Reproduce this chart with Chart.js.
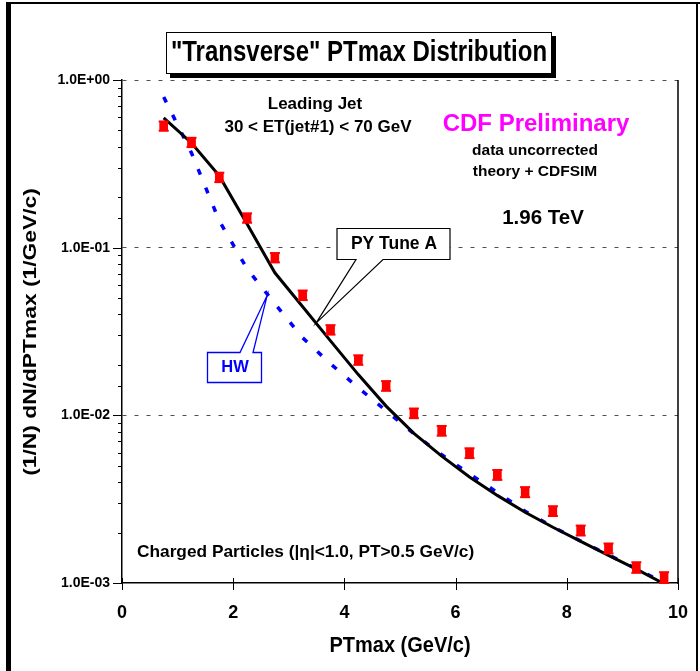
<!DOCTYPE html>
<html>
<head>
<meta charset="utf-8">
<script src="https://cdn.jsdelivr.net/npm/chart.js@4/dist/chart.umd.min.js"></script>
<style>
  html, body { margin: 0; padding: 0; background: #fff; }
  #wrap { position: relative; width: 700px; height: 671px; }
  canvas { display: block; }
</style>
</head>
<body>
<div id="wrap"><canvas id="c" width="700" height="671"></canvas></div>
<script>
// PTmax bin centres (GeV/c)
const ptBins = [0.75, 1.25, 1.75, 2.25, 2.75, 3.25, 3.75, 4.25, 4.75, 5.25,
                5.75, 6.25, 6.75, 7.25, 7.75, 8.25, 8.75, 9.25, 9.75];
// CDF data, (1/N) dN/dPTmax, with statistical errors
const cdfData = [0.532, 0.425, 0.263, 0.1505, 0.0873, 0.0521, 0.0324, 0.0214, 0.0150, 0.0103,
                 0.0081, 0.00596, 0.00442, 0.00349, 0.00269, 0.00206, 0.00161, 0.00124, 0.00108];
const cdfErr  = [0.034, 0.027, 0.017, 0.0097, 0.0056, 0.0034, 0.0021, 0.0014, 0.0010, 0.00068,
                 0.00054, 0.00040, 0.00030, 0.00024, 0.00018, 0.00014, 0.00011, 0.00009, 0.00008];
// PYTHIA Tune A + CDFSIM
const pyTuneA = [0.594, 0.421, 0.268, 0.1386, 0.0708, 0.0444, 0.0278, 0.0175, 0.01135, 0.0078,
                 0.00571, 0.00429, 0.00333, 0.00264, 0.00215, 0.00177, 0.00146, 0.00121, 0.00099];
// HERWIG + CDFSIM
const herwig  = [0.792, 0.367, 0.1444, 0.0748, 0.0463, 0.0290, 0.0203, 0.0146, 0.01065, 0.00776,
                 0.00582, 0.00448, 0.00347, 0.00268, 0.00216, 0.00178, 0.00147, 0.00122, 0.00100];
// axis ticks
const xTickValues = [0, 2, 4, 6, 8, 10];
const yDecades = [0.001, 0.01, 0.1, 1];
const yDecadeLabels = ['1.0E-03', '1.0E-02', '1.0E-01', '1.0E+00'];

const FONT = '"Liberation Sans", Arial, Helvetica, sans-serif';

function decadeIndex(v) {
  for (let i = 0; i < yDecades.length; i++) {
    if (Math.abs(v - yDecades[i]) / yDecades[i] < 1e-6) return i;
  }
  return -1;
}

function drawText(ctx, s, x, y, o) {
  ctx.save();
  ctx.translate(x, y);
  if (o.rot) ctx.rotate(o.rot);
  ctx.scale(o.sx || 1, o.sy || 1);
  ctx.font = 'bold ' + o.size + 'px ' + FONT;
  ctx.fillStyle = o.color || '#000';
  ctx.textAlign = o.align || 'center';
  ctx.textBaseline = 'middle';
  ctx.fillText(s, 0, 0);
  ctx.restore();
}

const pagePlugin = {
  id: 'page',
  beforeDraw(chart) {
    const ctx = chart.ctx;
    ctx.save();
    ctx.fillStyle = '#fff';
    ctx.fillRect(0, 0, chart.width, chart.height);
    // slide frame
    ctx.fillStyle = '#000';
    ctx.fillRect(6, 2, 5, 669);
    ctx.fillRect(6, 2, 694, 2);
    ctx.fillRect(696, 2, 2, 669);
    ctx.restore();
  },
  afterDatasetsDraw(chart) {
    const ctx = chart.ctx;
    const xs = chart.scales.x, ys = chart.scales.y;
    const area = chart.chartArea;
    ctx.save();
    // error bars on the data points
    ctx.fillStyle = '#ff0000';
    ptBins.forEach((x, i) => {
      const px = xs.getPixelForValue(x);
      const hi = ys.getPixelForValue(cdfData[i] + cdfErr[i]);
      const lo = ys.getPixelForValue(cdfData[i] - cdfErr[i]);
      ctx.fillRect(px - 4, hi, 8, lo - hi);
      ctx.fillRect(px - 5, hi - 1, 10, 2);
      ctx.fillRect(px - 5, lo - 1, 10, 2);
    });
    // right frame of the plot area
    ctx.strokeStyle = '#000';
    ctx.lineWidth = 1.5;
    ctx.beginPath();
    ctx.moveTo(area.right, area.top);
    ctx.lineTo(area.right, area.bottom + 1);
    ctx.stroke();
    // y tick marks (major at decades, minor between)
    ctx.lineWidth = 1;
    ys.ticks.forEach(t => {
      const py = Math.round(ys.getPixelForValue(t.value)) + 0.5;
      const len = decadeIndex(t.value) >= 0 ? 9 : 4;
      ctx.beginPath();
      ctx.moveTo(area.left - len, py);
      ctx.lineTo(area.left, py);
      ctx.stroke();
    });
    // x tick marks crossing the axis
    xTickValues.forEach(v => {
      const px = Math.round(xs.getPixelForValue(v)) + 0.5;
      ctx.beginPath();
      ctx.moveTo(px, area.bottom - 5);
      ctx.lineTo(px, area.bottom + 7);
      ctx.stroke();
    });
    ctx.restore();
  },
  afterDraw(chart) {
    const ctx = chart.ctx;
    const xs = chart.scales.x, ys = chart.scales.y;
    ctx.save();

    // title box with drop shadow
    ctx.fillStyle = '#000';
    ctx.fillRect(170, 36, 386, 42);
    ctx.fillStyle = '#fff';
    ctx.fillRect(166, 32, 386, 42);
    ctx.strokeStyle = '#000';
    ctx.lineWidth = 1;
    ctx.strokeRect(166.5, 32.5, 385, 41);
    drawText(ctx, '"Transverse" PTmax Distribution', 359, 53, { size: 24, sy: 1.25 });

    // axis titles
    drawText(ctx, '(1/N) dN/dPTmax (1/GeV/c)', 31, 332, { size: 19, rot: -Math.PI / 2, sx: 1.2 });
    drawText(ctx, 'PTmax (GeV/c)', 400, 646, { size: 20, sy: 1.12 });

    // selection text
    drawText(ctx, 'Leading Jet', 315, 104, { size: 17 });
    drawText(ctx, '30 < ET(jet#1) < 70 GeV', 318, 127, { size: 17 });
    drawText(ctx, 'CDF Preliminary', 536, 124, { size: 24, color: '#ff00ff' });
    drawText(ctx, 'data uncorrected', 535, 151, { size: 15.5 });
    drawText(ctx, 'theory + CDFSIM', 535, 172, { size: 15.5 });
    drawText(ctx, '1.96 TeV', 543, 218, { size: 20.5 });
    drawText(ctx, 'Charged Particles (|\u03b7|<1.0, PT>0.5 GeV/c)', 137, 552, { size: 17.3, align: 'left' });

    // "PY Tune A" callout pointing at the PYTHIA curve
    const pyTipX = xs.getPixelForValue(3.49), pyTipY = ys.getPixelForValue(0.0355);
    ctx.beginPath();
    ctx.moveTo(337, 228.5);
    ctx.lineTo(450, 228.5);
    ctx.lineTo(450, 259.5);
    ctx.lineTo(383, 259.5);
    ctx.lineTo(pyTipX, pyTipY);
    ctx.lineTo(356, 259.5);
    ctx.lineTo(337, 259.5);
    ctx.closePath();
    ctx.fillStyle = '#fff';
    ctx.fill();
    ctx.strokeStyle = '#000';
    ctx.lineWidth = 1.2;
    ctx.stroke();
    drawText(ctx, 'PY Tune A', 394, 244, { size: 17.5 });

    // "HW" callout pointing at the HERWIG curve
    const hwTipX = xs.getPixelForValue(2.61), hwTipY = ys.getPixelForValue(0.0518);
    ctx.beginPath();
    ctx.moveTo(207.5, 352.5);
    ctx.lineTo(240, 352.5);
    ctx.lineTo(hwTipX, hwTipY);
    ctx.lineTo(253, 352.5);
    ctx.lineTo(261.5, 352.5);
    ctx.lineTo(261.5, 382.5);
    ctx.lineTo(207.5, 382.5);
    ctx.closePath();
    ctx.fillStyle = '#fff';
    ctx.fill();
    ctx.strokeStyle = '#0000ff';
    ctx.lineWidth = 1.3;
    ctx.stroke();
    drawText(ctx, 'HW', 235, 367, { size: 16.5, color: '#0000ff' });

    ctx.restore();
  }
};

const toPoints = arr => ptBins.map((x, i) => ({ x: x, y: arr[i] }));

new Chart(document.getElementById('c'), {
  type: 'line',
  data: {
    datasets: [
      {
        label: 'CDF data',
        data: toPoints(cdfData),
        showLine: false,
        pointStyle: 'rect',
        pointRadius: 6,
        pointBorderWidth: 0,
        pointBackgroundColor: '#ff0000',
        borderColor: '#ff0000'
      },
      {
        label: 'PY Tune A',
        data: toPoints(pyTuneA),
        borderColor: '#000000',
        borderWidth: 3,
        pointRadius: 0,
        tension: 0,
        fill: false
      },
      {
        label: 'HW',
        data: toPoints(herwig),
        borderColor: '#0000ff',
        borderWidth: 3.5,
        borderDash: [6, 14],
        pointRadius: 0,
        tension: 0,
        fill: false
      }
    ]
  },
  options: {
    responsive: false,
    animation: false,
    devicePixelRatio: 1,
    layout: { padding: { left: 0, top: 80, right: 22, bottom: 0 } },
    plugins: { legend: { display: false }, tooltip: { enabled: false } },
    scales: {
      x: {
        type: 'linear',
        min: 0,
        max: 10,
        afterFit(s) { s.height = 88; },
        afterBuildTicks(s) { s.ticks = xTickValues.map(v => ({ value: v })); },
        grid: { display: false },
        border: { display: true, color: '#000', width: 1.5 },
        ticks: {
          color: '#000',
          font: { family: FONT, size: 18, weight: 'bold' },
          padding: 11,
          maxRotation: 0,
          autoSkip: false
        }
      },
      y: {
        type: 'logarithmic',
        min: 0.001,
        max: 1,
        afterFit(s) { s.width = 122; },
        grid: {
          display: true,
          drawTicks: false,
          lineWidth: 1,
          color: c => {
            const k = decadeIndex(c.tick.value);
            return k > 0 ? '#505050' : 'rgba(0,0,0,0)';
          }
        },
        border: { display: true, color: '#000', width: 1.5, dash: [4, 8] },
        ticks: {
          color: '#000',
          font: { family: FONT, size: 14, weight: 'bold' },
          padding: 12,
          autoSkip: false,
          callback: v => {
            const k = decadeIndex(v);
            return k >= 0 ? yDecadeLabels[k] : '';
          }
        }
      }
    }
  },
  plugins: [pagePlugin]
});
</script>
</body>
</html>
